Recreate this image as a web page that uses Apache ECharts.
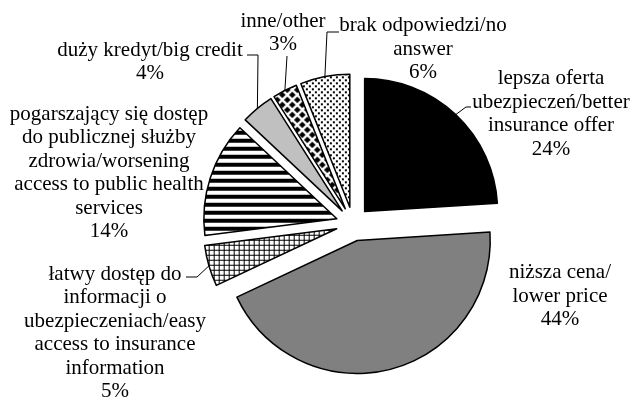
<!DOCTYPE html>
<html lang="pl">
<head>
    <meta charset="UTF-8">
    <title>Pie</title>
    <style>
        html, body { margin: 0; padding: 0; background: #fff; }
        #main { width: 632px; height: 401px; }
    </style>
</head>
<body>
    <div id="main"></div>
<script type="text/javascript" src="https://cdn.jsdelivr.net/npm/echarts@6/dist/echarts.min.js"></script>
<script type="text/javascript">
    var categories = [
        'lepsza oferta\nubezpieczeń/better\ninsurance offer',
        'niższa cena/\nlower price',
        'łatwy dostęp do\ninformacji o\nubezpieczeniach/easy\naccess to insurance\ninformation',
        'pogarszający się dostęp\ndo publicznej służby\nzdrowia/worsening\naccess to public health\nservices',
        'duży kredyt/big credit',
        'inne/other',
        'brak odpowiedzi/no\nanswer'
    ];
    var values = [24, 44, 5, 14, 4, 3, 6];

    var CX = 353, CY = 224, R = 133, OFF = 17;

    function makePattern(size, draw) {
        var c = document.createElement('canvas');
        c.width = size; c.height = size;
        var ctx = c.getContext('2d');
        ctx.fillStyle = '#fff';
        ctx.fillRect(0, 0, size, size);
        ctx.fillStyle = '#000';
        draw(ctx);
        return { image: c, repeat: 'repeat' };
    }

    var stripes = makePattern(8, function (ctx) { ctx.fillRect(0, 0, 8, 4); });
    var grid = makePattern(5, function (ctx) {
        ctx.fillRect(0, 0, 5, 1);
        ctx.fillRect(0, 0, 1, 5);
    });
    var diamonds = makePattern(10, function (ctx) {
        function d(x, y) {
            ctx.beginPath();
            ctx.moveTo(x, y - 3.3); ctx.lineTo(x + 3.3, y); ctx.lineTo(x, y + 3.3); ctx.lineTo(x - 3.3, y);
            ctx.closePath(); ctx.fill();
        }
        d(0, 0); d(10, 0); d(0, 10); d(10, 10); d(5, 5);
    });
    var dots = makePattern(6, function (ctx) {
        ctx.fillRect(0, 0, 2, 2);
        ctx.fillRect(3, 3, 2, 2);
    });

    var fills = ['#000000', '#808080', grid, stripes, '#c0c0c0', diamonds, dots];

    // label block centres and leader line elbows
    var labelPos = [[551, 114], [560, 296], [115, 333], [109, 173], [150, 62], [283, 33], [423, 49]];
    var elbows = [
        [[466, 107], [471, 107]],
        null,
        [[197, 277], [186, 277]],
        null,
        [[258, 55], [247, 55]],
        [[287, 56]],
        [[327, 32], [339, 32]]
    ];

    var total = values.reduce(function (a, b) { return a + b; }, 0);
    function anchor(i) {
        var before = 0;
        for (var k = 0; k < i; k++) before += values[k];
        var a = (before + values[i] / 2) / total * Math.PI * 2;
        return [CX + Math.sin(a) * (R + OFF), CY - Math.cos(a) * (R + OFF)];
    }

    var sliceData = [], labelData = [];
    for (var i = 0; i < values.length; i++) {
        sliceData.push({
            name: categories[i],
            value: values[i],
            selected: true,
            itemStyle: { color: fills[i] }
        });
        labelData.push({
            name: categories[i],
            value: values[i],
            labelLine: { show: !!elbows[i] }
        });
    }

    var myChart = echarts.init(document.getElementById('main'), null, { renderer: 'canvas' });
    var option = {
        animation: false,
        series: [{
            // exploded slices
            type: 'pie',
            center: [CX, CY],
            radius: R,
            startAngle: 90,
            clockwise: true,
            selectedMode: 'multiple',
            selectedOffset: OFF,
            silent: true,
            itemStyle: { borderColor: '#000', borderWidth: 1.5 },
            label: { show: false },
            labelLine: { show: false },
            data: sliceData
        }, {
            // labels only
            type: 'pie',
            center: [CX, CY],
            radius: R,
            startAngle: 90,
            clockwise: true,
            silent: true,
            avoidLabelOverlap: false,
            itemStyle: { color: 'rgba(0,0,0,0)', borderWidth: 0 },
            label: {
                show: true,
                position: 'outside',
                formatter: function (p) { return p.name + '\n' + p.value + '%'; },
                fontFamily: 'Liberation Serif',
                fontSize: 21,
                lineHeight: 23.5,
                color: '#000',
                align: 'center'
            },
            labelLine: { lineStyle: { color: '#000', width: 1 } },
            labelLayout: function (p) {
                var i = p.dataIndex;
                var out = {
                    x: labelPos[i][0],
                    y: labelPos[i][1],
                    align: 'center',
                    verticalAlign: 'middle'
                };
                if (elbows[i]) out.labelLinePoints = [anchor(i)].concat(elbows[i]);
                return out;
            },
            data: labelData
        }]
    };
    myChart.setOption(option);
</script>
</body>
</html>
